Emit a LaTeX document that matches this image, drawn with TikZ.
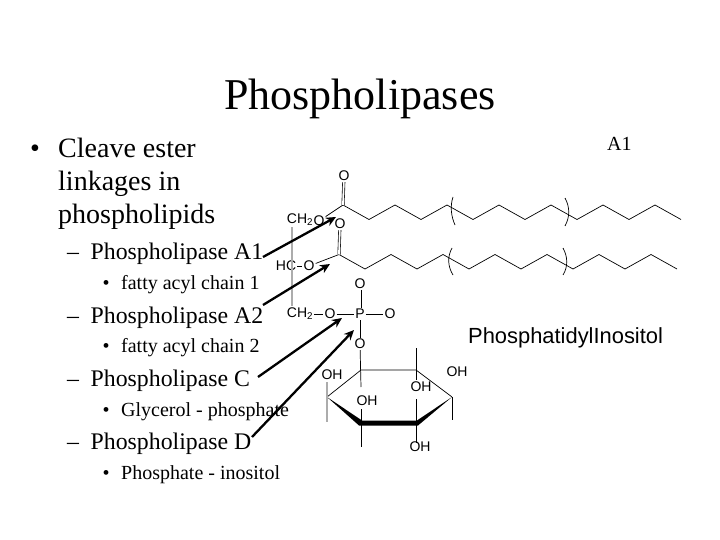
\documentclass[tikz,border=0pt]{standalone}
\usepackage{fontspec}
\setmainfont{Liberation Serif}
\setsansfont{Liberation Sans}
\usetikzlibrary{arrows.meta}
\begin{document}
\begin{tikzpicture}[x=1pt, y=-1pt,
  head/.style = {anchor=base, inner sep=0, font=\fontsize{44}{44}\selectfont},
  top/.style = {anchor=base west, inner sep=0, font=\fontsize{28}{28}\selectfont},
  sub/.style = {anchor=base west, inner sep=0, font=\fontsize{23.8}{23.8}\selectfont},
  subsub/.style = {anchor=base west, inner sep=0, font=\fontsize{20}{20}\selectfont},
  atom/.style = {inner sep=1pt, font=\sffamily\fontsize{14}{14}\selectfont},
  bond/.style = {line width=0.7pt},
  pale/.style = {line width=1.3pt, gray!65},
  dbl/.style = {line width=0.6pt, double, double distance=1.8pt},
  pointer/.style = {line width=2.3pt, -{Stealth[length=10pt, width=9pt]}}]
\useasboundingbox (0,0) rectangle (720,540);

% text
\node[head] (title) at (360,110) {Phospholipases};
\node[top] (b1) at (30,158) {•};
\node[top] (t1) at (58,158) {Cleave ester};
\node[top] (t2) at (58,191) {linkages in};
\node[top] (t3) at (58,224) {phospholipids};
\node[sub] (d1) at (67,259) {–};
\node[sub] (a1) at (90.5,259) {Phospholipase A1};
\node[subsub] (e1) at (102.5,289) {•};
\node[subsub] (f1) at (121,289) {fatty acyl chain 1};
\node[sub] (d2) at (67,323) {–};
\node[sub] (a2) at (90.5,323) {Phospholipase A2};
\node[subsub] (e2) at (102.5,352) {•};
\node[subsub] (f2) at (121,352) {fatty acyl chain 2};
\node[sub] (d3) at (67,386) {–};
\node[sub] (a3) at (90.5,386) {Phospholipase C};
\node[subsub] (e3) at (102.5,416) {•};
\node[subsub] (f3) at (121,416) {Glycerol - phosphate};
\node[sub] (d4) at (67,449) {–};
\node[sub] (a4) at (90.5,449) {Phospholipase D};
\node[subsub] (e4) at (102.5,479) {•};
\node[subsub] (f4) at (121,479) {Phosphate - inositol};
\node[subsub] (lab) at (607,151) {A1};
\node[anchor=base west, inner sep=0, font=\sffamily\fontsize{21.9}{21.9}\selectfont] (name) at (468,343) {PhosphatidylInositol};

% atoms
\node[atom] (ch1) at (300,220) {CH\textsubscript{2}};
\node[atom] (o1) at (319,221) {O};
\node[atom] (od1) at (344,176) {O};
\node[atom] (hc) at (286,266) {HC};
\node[atom] (o2) at (309,266) {O};
\node[atom] (od2) at (340,224) {O};
\node[atom] (ch2) at (300,314) {CH\textsubscript{2}};
\node[atom] (o3) at (330,314) {O};
\node[atom] (p) at (360,314) {P};
\node[atom] (o4) at (390,314) {O};
\node[atom] (od3) at (360,284) {O};
\node[atom] (o5) at (360,344) {O};
\node[atom] (oh1) at (332,375) {OH};
\node[atom] (oh2) at (367,401) {OH};
\node[atom] (oh3) at (421,387) {OH};
\node[atom] (oh4) at (457,372) {OH};
\node[atom] (oh5) at (420,447) {OH};

% fatty acyl chains
\foreach \i in {0,...,13} {
  \pgfmathsetmacro{\upper}{isodd(\i) ? 219.5 : 205}
  \pgfmathsetmacro{\lower}{isodd(\i) ? 269 : 254.5}
  \coordinate (u\i) at ({343+26*\i},\upper);
  \coordinate (v\i) at ({339+26*\i},\lower);
}
\foreach \i [remember=\i as \j (initially 0)] in {1,...,13} {
  \draw[bond] (u\j) -- (u\i);
  \draw[bond] (v\j) -- (v\i);
}
\draw[bond] (o1) -- (u0);
\draw[bond] (o2) -- (v0);
\draw[dbl] (od1) -- (u0);
\draw[dbl] (od2) -- (v0);
\draw[bond] (453,197) .. controls (450,206) and (451,216) .. (455,225);
\draw[bond] (565,198) .. controls (570,207) and (570,217) .. (565,226);
\draw[bond] (452,248) .. controls (447,257) and (448,267) .. (453,275);
\draw[bond] (563,248) .. controls (568,257) and (568,267) .. (563,275);

% glycerol and phosphate
\coordinate (g1) at (292,227);
\coordinate (g2) at (292,306);
\draw[pale] (g1) -- (g2);
\draw[bond] (hc) -- (o2);
\draw[bond] (ch2) -- (o3);
\draw[bond] (o3) -- (p);
\draw[bond] (p) -- (o4);
\draw[bond] (p) -- (o5);
\draw[dbl] (od3) -- (p);

% ring
\coordinate (r1) at (361,370);
\coordinate (r2) at (416,370);
\coordinate (r3) at (452,397);
\coordinate (r4) at (417,423);
\coordinate (r5) at (361,423);
\coordinate (r6) at (327,397);
\draw[bond] (r6) -- (r1) -- (r2) -- (r3);
\fill (r6) -- (359,425.5) -- (418,425.5) -- (r3) -- (417,420.5) -- (362,420.5) -- cycle;
\draw[bond] (o5) -- (361,387);
\draw[bond] (416,348) -- (416,380);
\draw[bond] (416,399) -- (416,443);
\draw[bond] (r3) -- (452,420);
\draw[pale] (327,382) -- (327,422);
\draw[bond] (361,409) -- (361,447);

% arrows
\coordinate (s1) at (263,257);
\coordinate (e1t) at (336,217);
\coordinate (s2) at (263,305);
\coordinate (e2t) at (330,264);
\coordinate (s3) at (258,377);
\coordinate (e3t) at (342,318);
\coordinate (s4) at (252,437);
\coordinate (e4t) at (354,330);
\draw[pointer] (s1) -- (e1t);
\draw[pointer] (s2) -- (e2t);
\draw[pointer] (s3) -- (e3t);
\draw[pointer] (s4) -- (e4t);
\end{tikzpicture}
\end{document}
